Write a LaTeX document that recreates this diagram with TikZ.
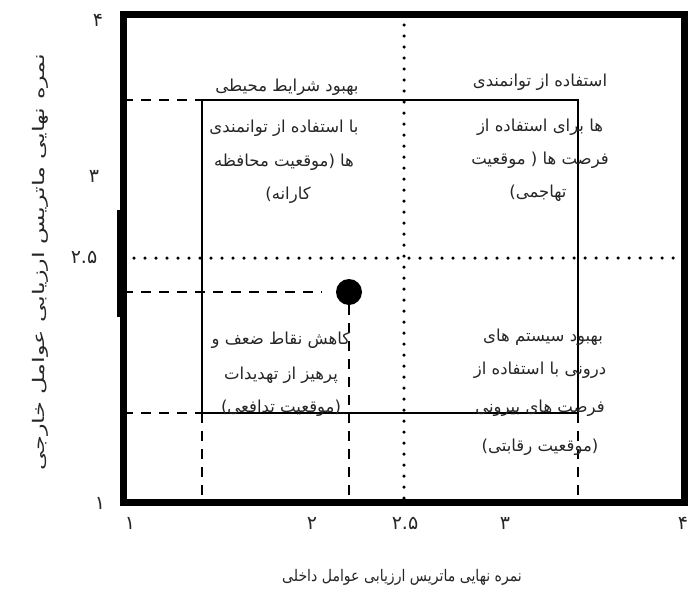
\documentclass[tikz,border=0pt]{standalone}
\usepackage{fontspec}
\usepackage{graphicx}
\newfontfamily\arabicfont[Script=Arabic]{DejaVu Sans}
\TeXXeTstate=1
\newcommand\fa[1]{{\arabicfont\beginR #1\endR}}
\begin{document}
\begin{tikzpicture}[x=1pt,y=-1pt,
  frame/.style={line width=7pt},
  inner/.style={line width=2pt},
  dashline/.style={line width=1.5pt,dash pattern=on 10pt off 8pt},
  dotline/.style={line width=3.5pt,line cap=round,dash pattern=on 0pt off 11pt},
  txt/.style={font=\fontsize{16.5}{19}\selectfont\arabicfont,inner sep=0pt,text=black!85},
  tick/.style={font=\fontsize{19}{21}\selectfont\arabicfont,inner sep=0pt,text=black!85},
  axt/.style={font=\fontsize{16}{18}\selectfont\arabicfont,inner sep=0pt,text=black!85}]
\useasboundingbox (0,0) rectangle (689,592);
% frame corners
\coordinate (F1) at (123,14);
\coordinate (F2) at (684,502);
% dotted mid lines
\coordinate (vt) at (404,14);
\coordinate (vb) at (404,502);
\coordinate (hl) at (123,258);
\coordinate (hr) at (684,258);
\draw[dotline] (vt) -- (vb);
\draw[dotline] (hl) -- (hr);
% inner rectangle
\coordinate (R1) at (202,100);
\coordinate (R2) at (578,413);
\draw[inner] (R1) rectangle (R2);
% the point
\node[circle,fill=black,minimum size=26pt,inner sep=0pt] (pt) at (349,292) {};
% dashed guides
\coordinate (a1) at (123,100);
\coordinate (a2) at (123,292);
\coordinate (a3) at (123,413);
\coordinate (b1) at (202,413);
\coordinate (b1d) at (202,502);
\coordinate (b2d) at (349,502);
\coordinate (b3) at (578,413);
\coordinate (b3d) at (578,502);
\coordinate (a2e) at (322,292);
\draw[dashline] (a1) -- (R1);
\draw[dashline] (a2) -- (a2e);
\draw[dashline] (a3) -- (b1);
\draw[dashline] (b1) -- (b1d);
\draw[dashline] (pt.south) -- (b2d);
\draw[dashline] (b3) -- (b3d);
% outer frame
\draw[frame] (F1) rectangle (F2);
\fill (117,210) rectangle (127,317);
% quadrant texts
\node[txt] (tl1) at (287,87) {\fa{بهبود شرایط محیطی}};
\node[txt] (tl2) at (284,128) {\fa{با استفاده از توانمندی}};
\node[txt] (tl3) at (284,162) {\fa{ها (موقعیت محافظه}};
\node[txt] (tl4) at (288,195) {\fa{کارانه)}};
\node[txt] (tr1) at (540,82) {\fa{استفاده از توانمندی}};
\node[txt] (tr2) at (540,127) {\fa{ها برای استفاده از}};
\node[txt] (tr3) at (540,160) {\fa{فرصت ها ( موقعیت}};
\node[txt] (tr4) at (538,193) {\fa{تهاجمی)}};
\node[txt] (bl1) at (281,340) {\fa{کاهش نقاط ضعف و}};
\node[txt] (bl2) at (281,375) {\fa{پرهیز از تهدیدات}};
\node[txt] (bl3) at (281,408) {\fa{(موقعیت تدافعی)}};
\node[txt] (br1) at (543,337) {\fa{بهبود سیستم های}};
\node[txt] (br2) at (540,370) {\fa{درونی با استفاده از}};
\node[txt] (br3) at (540,408) {\fa{فرصت های بیرونی}};
\node[txt] (br4) at (540,447) {\fa{(موقعیت رقابتی)}};
% ticks
\node[tick] (x1) at (130,523) {۱};
\node[tick] (x2) at (312,523) {۲};
\node[tick] (x25) at (405,523) {۲.۵};
\node[tick] (x3) at (505,523) {۳};
\node[tick] (x4) at (683,523) {۴};
\node[tick] (y4) at (98,20) {۴};
\node[tick] (y3) at (94,176) {۳};
\node[tick] (y25) at (84,257) {۲.۵};
\node[tick] (y1) at (100,503) {۱};
% axis titles
\node[axt] (xt) at (402,577) {\scalebox{0.88}[1]{\fa{نمره نهایی ماتریس ارزیابی عوامل داخلی}}};
\node[axt,rotate=90] (yt) at (40,262) {\scalebox{1.5}[1]{\fa{نمره نهایی ماتریس ارزیابی عوامل خارجی}}};
\end{tikzpicture}
\end{document}
